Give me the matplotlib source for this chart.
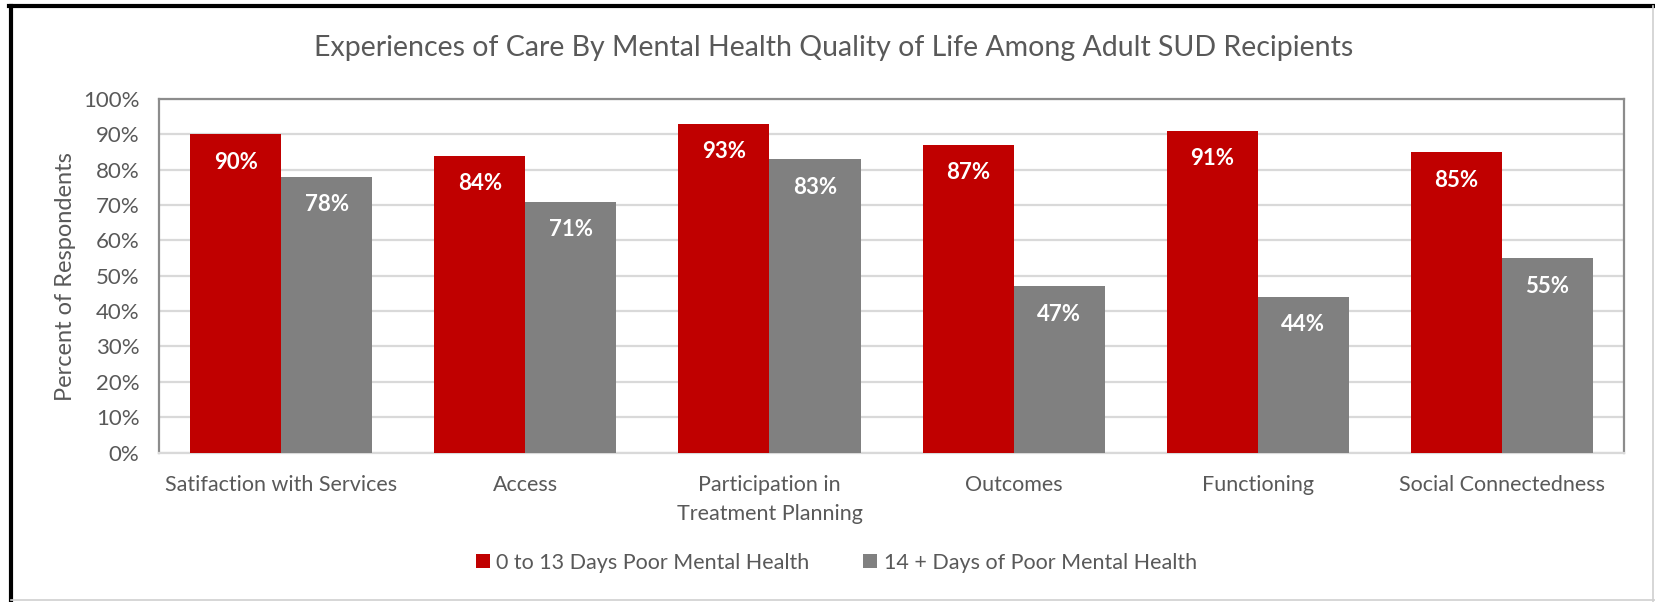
import matplotlib
matplotlib.use("Agg")
import matplotlib.pyplot as plt
from matplotlib.lines import Line2D
import numpy as np

categories = ["Satifaction with Services", "Access", "Participation in\nTreatment Planning",
              "Outcomes", "Functioning", "Social Connectedness"]
low_days = [90, 84, 93, 87, 91, 85]
high_days = [78, 71, 83, 47, 44, 55]
series_names = ["0 to 13 Days Poor Mental Health", "14 + Days of Poor Mental Health"]
y_ticks = [0, 10, 20, 30, 40, 50, 60, 70, 80, 90, 100]

RED = "#C00000"
GRAY = "#808080"
TEXT = "#595959"

plt.rcParams["font.family"] = ["Lato", "DejaVu Sans"]

fig = plt.figure(figsize=(16.55, 6.02), dpi=100)
ax = fig.add_axes([0.0961, 0.2483, 0.9813 - 0.0961, 0.8355 - 0.2483])

x = np.arange(len(categories))
w = 0.373
b1 = ax.bar(x - w / 2, low_days, width=w, color=RED, label=series_names[0], zorder=3)
b2 = ax.bar(x + w / 2, high_days, width=w, color=GRAY, label=series_names[1], zorder=3)

for bars, vals in ((b1, low_days), (b2, high_days)):
    for rect, v in zip(bars, vals):
        ax.annotate(f"{v}%", (rect.get_x() + rect.get_width() / 2, v),
                    xytext=(0, -28), textcoords="offset pixels",
                    ha="center", va="center", color="white",
                    fontsize=16, fontweight="bold", zorder=4)

ax.set_xlim(-0.5, len(categories) - 0.5)
ax.set_ylim(0, 100)
ax.set_yticks(y_ticks)
ax.set_yticklabels([f"{t}%" for t in y_ticks])
ax.set_xticks(x)
ax.set_xticklabels(categories, linespacing=1.55)
ax.tick_params(axis="both", length=0, colors=TEXT, labelsize=15.5)
ax.tick_params(axis="y", labelsize=16, pad=14)
ax.tick_params(axis="x", pad=16)
ax.yaxis.grid(True, color="#D9D9D9", linewidth=1.6, zorder=0)
ax.set_axisbelow(True)
for side in ("left", "top", "right"):
    ax.spines[side].set_color("#8C8C8C")
    ax.spines[side].set_linewidth(1.6)
ax.spines["bottom"].set_color("#D9D9D9")
ax.spines["bottom"].set_linewidth(1.6)

fig.text(0.0393, 0.54, "Percent of Respondents", rotation=90, ha="center", va="center",
         color=TEXT, fontsize=17)
fig.text(0.504, 0.921, "Experiences of Care By Mental Health Quality of Life Among Adult SUD Recipients",
         ha="center", va="center", color=TEXT, fontsize=20.5)

fig.legend(handles=[b1, b2], labels=series_names, loc="center", bbox_to_anchor=(0.5054, 0.065),
           ncol=2, frameon=False, fontsize=15.5, labelcolor=TEXT,
           handlelength=0.65, handleheight=0.65, handletextpad=0.3, columnspacing=2.5)

# frame around the chart
fig.add_artist(Line2D([0.0066, 0.0066], [0.0, 0.9895], transform=fig.transFigure,
                      color="black", linewidth=3))
fig.add_artist(Line2D([0.0057, 1.0], [0.9895, 0.9895], transform=fig.transFigure,
                      color="black", linewidth=3))
fig.add_artist(Line2D([0.9985, 0.9985], [0.0, 0.9895], transform=fig.transFigure,
                      color="#D0D0D0", linewidth=1.2))
fig.add_artist(Line2D([0.0066, 1.0], [0.0025, 0.0025], transform=fig.transFigure,
                      color="#D0D0D0", linewidth=1.2))

fig.savefig("out.png", dpi=100, facecolor="white")
